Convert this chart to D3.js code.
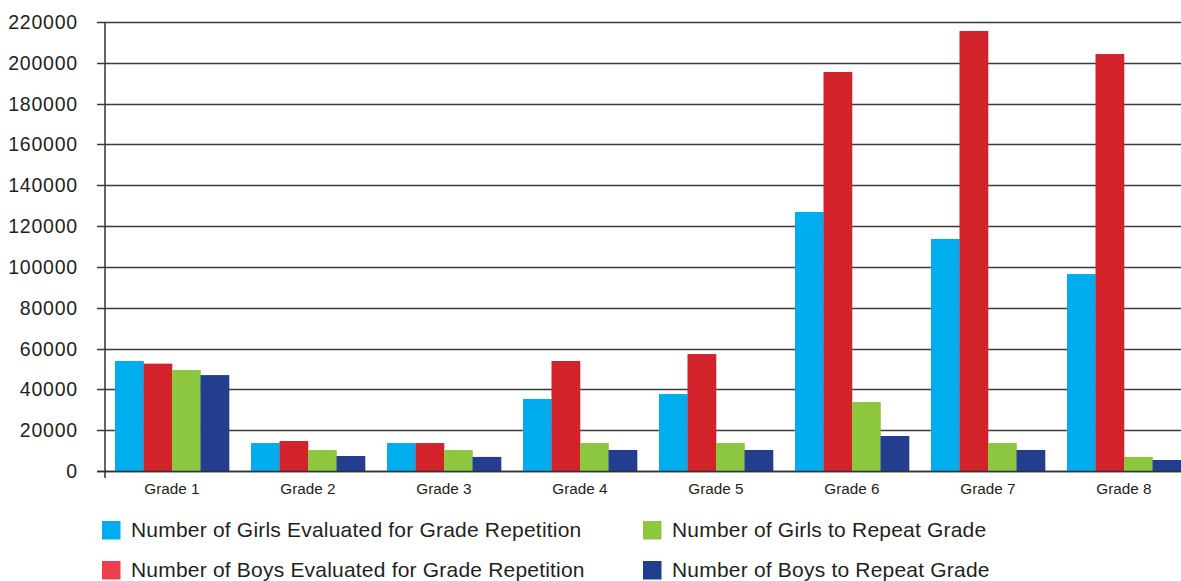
<!DOCTYPE html>
<html>
<head>
<meta charset="utf-8">
<script src="https://cdn.jsdelivr.net/npm/d3@7"></script>
<style>
  html, body { margin: 0; padding: 0; background: #fff; }
  svg { display: block; font-family: "Liberation Sans", Arial, sans-serif; }
</style>
</head>
<body>
<svg id="chart" width="1181" height="581"></svg>
<script>
const categories = ["Grade 1", "Grade 2", "Grade 3", "Grade 4", "Grade 5", "Grade 6", "Grade 7", "Grade 8"];
const seriesNames = [
  "Number of Girls Evaluated for Grade Repetition",
  "Number of Boys Evaluated for Grade Repetition",
  "Number of Girls to Repeat Grade",
  "Number of Boys to Repeat Grade"
];
const girlsEvaluated = [53900, 13700, 13700, 35300, 37700, 126900, 113700, 96500];
const boysEvaluated  = [52600, 14700, 13700, 53900, 57300, 195500, 215600, 204300];
const girlsRepeat    = [49500, 10300, 10300, 13700, 13700, 33800, 13700, 6900];
const boysRepeat     = [47000, 7350, 6900, 10300, 10300, 17150, 10300, 5400];
const yTicks = [0, 20000, 40000, 60000, 80000, 100000, 120000, 140000, 160000, 180000, 200000, 220000];

const seriesValues = [girlsEvaluated, boysEvaluated, girlsRepeat, boysRepeat];
const barColors = ["#00aeef", "#d2232a", "#8dc63f", "#233e8e"];
const legendColors = ["#00aeef", "#ee3e4c", "#8dc63f", "#233e8e"];

const svg = d3.select("#chart");
const axisX = 105, plotTop = 22, plotBottom = 471;

const y = d3.scaleLinear().domain([0, 220000]).range([plotBottom, plotTop]);
const x = d3.scaleBand().domain(categories).range([104, 1192]).padding(0);
const xs = d3.scaleBand().domain(d3.range(4)).range([11, x.bandwidth() - 11]).padding(0);

// gridlines
svg.append("g").selectAll("line").data(yTicks).join("line")
  .attr("x1", 97).attr("x2", 1181)
  .attr("y1", d => Math.round(y(d)) + 0.5).attr("y2", d => Math.round(y(d)) + 0.5)
  .attr("stroke", "#3a3a3a").attr("stroke-width", 1.4);

// y labels
svg.append("g").selectAll("text").data(yTicks).join("text")
  .attr("x", 78).attr("y", d => y(d) + 7)
  .attr("text-anchor", "end")
  .attr("font-size", 19.5)
  .attr("letter-spacing", 0.8)
  .attr("fill", "#231f20")
  .text(d => d);

// bars
const groups = svg.append("g").selectAll("g").data(categories).join("g")
  .attr("transform", c => `translate(${x(c)},0)`);
groups.selectAll("rect").data((c, i) => seriesValues.map((s, k) => ({ k, v: s[i] }))).join("rect")
  .attr("x", d => xs(d.k))
  .attr("width", xs.bandwidth() + 0.3)
  .attr("y", d => y(d.v))
  .attr("height", d => plotBottom - y(d.v))
  .attr("fill", d => barColors[d.k]);

// baseline and vertical axis
svg.append("line").attr("x1", 97).attr("x2", 1181).attr("y1", plotBottom + 0.5).attr("y2", plotBottom + 0.5)
  .attr("stroke", "#333").attr("stroke-width", 1.6);
svg.append("line").attr("x1", axisX).attr("x2", axisX).attr("y1", plotTop).attr("y2", 478)
  .attr("stroke", "#333").attr("stroke-width", 1.5);

// x labels
svg.append("g").selectAll("text").data(categories).join("text")
  .attr("x", c => x(c) + x.bandwidth() / 2)
  .attr("y", 494)
  .attr("text-anchor", "middle")
  .attr("font-size", 15.3)
  .attr("fill", "#231f20")
  .text(c => c);

// legend
const legendPos = [[102, 521], [102, 561], [643, 521], [643, 561]];
const lg = svg.append("g").selectAll("g").data(seriesNames).join("g")
  .attr("transform", (d, i) => `translate(${legendPos[i][0]},${legendPos[i][1]})`);
lg.append("rect").attr("width", 18.5).attr("height", 18.5).attr("fill", (d, i) => legendColors[i]);
lg.append("text").attr("x", 29).attr("y", 16).attr("font-size", 21).attr("letter-spacing", 0.2)
  .attr("fill", "#231f20").text(d => d);
</script>
</body>
</html>
